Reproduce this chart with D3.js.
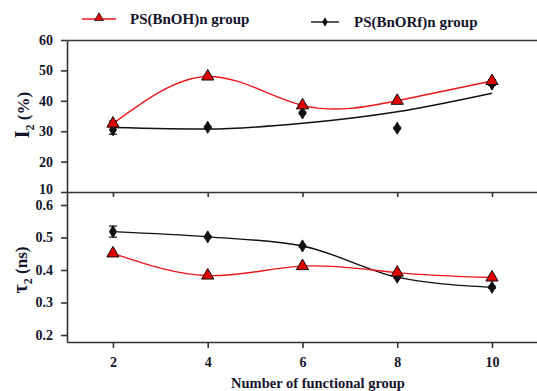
<!DOCTYPE html>
<html>
<head>
<meta charset="utf-8">
<script src="https://cdn.jsdelivr.net/npm/d3@7"></script>
<style>
  body { margin: 0; background: #fff; }
  svg { display: block; }
  text { font-family: "Liberation Serif", "Times New Roman", serif; font-weight: bold; fill: #14142b; }
</style>
</head>
<body>
<svg id="chart" width="537" height="391"></svg>
<script>
// number of functional groups
const groups = [2, 4, 6, 8, 10];

// I2 (%) values
const i2OH = [32.5, 48, 38.5, 40, 46.5];
const i2OHErr = [0.8, 0.3, 0.3, 0.3, 0.4];
const i2ORf = [30.5, 31.3, 36, 31, 45.5];
const i2ORfErr = [1.5, 0.3, 0.3, 0.3, 0.4];
// fitted trend drawn for the ORf series in the top panel
const i2ORfFit = [31.2, 30.7, 32.6, 36.4, 42.5];

// tau2 (ns) values
const tauOH = [0.451, 0.383, 0.412, 0.392, 0.377];
const tauORf = [0.518, 0.502, 0.474, 0.378, 0.347];
const tauORfErr = [0.017, 0.003, 0.003, 0.003, 0.003];

const topTicks = [10, 20, 30, 40, 50, 60];
const bottomTicks = [0.2, 0.3, 0.4, 0.5, 0.6];

const svg = d3.select("#chart");
const ink = "#14142b";
const axisColor = "#333";

const x = d3.scaleLinear().domain([1.03, 10.95]).range([67, 537]);
const yTop = d3.scaleLinear().domain([10, 60]).range([192, 40]);
const yBot = d3.scaleLinear().domain([0.1785, 0.64]).range([342, 192]);

function styleAxis(g) {
  g.selectAll("path, line").attr("stroke", axisColor).attr("stroke-width", 1.6);
  g.selectAll("text").attr("font-size", 14).attr("fill", ink)
    .attr("font-family", "Liberation Serif, serif").attr("font-weight", "bold");
}

// frame line at the top
svg.append("g").attr("transform", "translate(0,40)")
  .call(d3.axisTop(x).tickValues([]).tickSizeOuter(0))
  .call(styleAxis);

// middle separator with ticks
svg.append("g").attr("transform", "translate(0,192)")
  .call(d3.axisBottom(x).tickValues(groups).tickFormat("").tickSize(5).tickSizeOuter(0))
  .call(styleAxis);

// bottom x axis
svg.append("g").attr("transform", "translate(0,342)")
  .call(d3.axisBottom(x).tickValues(groups).tickFormat(d3.format("d")).tickSize(6).tickPadding(9).tickSizeOuter(0))
  .call(styleAxis);

// left axes
const topAxis = svg.append("g").attr("transform", "translate(67,0)")
  .call(d3.axisLeft(yTop).tickValues(topTicks).tickFormat(d3.format("d")).tickSize(6).tickPadding(8).tickSizeOuter(0))
  .call(styleAxis);
// lift the "10" label a little, it sits right above "0.6"
topAxis.selectAll(".tick").filter(d => d === 10).select("text").attr("dy", "0.1em");
svg.append("g").attr("transform", "translate(67,0)")
  .call(d3.axisLeft(yBot).tickValues(bottomTicks).tickFormat(d3.format(".1f")).tickSize(6).tickPadding(8).tickSizeOuter(0))
  .call(styleAxis);

// axis titles
svg.append("text").attr("x", 318).attr("y", 388).attr("text-anchor", "middle")
  .attr("font-size", 14.5).text("Number of functional group");

const t1 = svg.append("text").attr("transform", "translate(29,115) rotate(-90)")
  .attr("text-anchor", "middle").attr("font-size", 17);
t1.append("tspan").attr("font-size", 20).text("I");
t1.append("tspan").attr("dy", 5).attr("font-size", 12).text("2");
t1.append("tspan").attr("dy", -5).text(" (%)");

const t2 = svg.append("text").attr("transform", "translate(27,270) rotate(-90)")
  .attr("text-anchor", "middle").attr("font-size", 17);
t2.append("tspan").attr("font-size", 20).text("τ");
t2.append("tspan").attr("dy", 5).attr("font-size", 12).text("2");
t2.append("tspan").attr("dy", -5).text(" (ns)");

const tri = d3.symbol().type(d3.symbolTriangle).size(65);
const dia = d3.symbol().type(d3.symbolDiamond).size(42);

function drawLine(vals, y, color, curve) {
  svg.append("path")
    .datum(groups.map((g, i) => [g, vals[i]]))
    .attr("fill", "none").attr("stroke", color).attr("stroke-width", 1.4)
    .attr("d", d3.line().x(d => x(d[0])).y(d => y(d[1])).curve(curve));
}

function drawErr(vals, errs, y) {
  const cap = 4;
  groups.forEach((g, i) => {
    const e = errs[i];
    const cx = x(g);
    const gg = svg.append("g").attr("stroke", "#111").attr("stroke-width", 1.2);
    gg.append("line").attr("x1", cx).attr("x2", cx).attr("y1", y(vals[i] - e)).attr("y2", y(vals[i] + e));
    gg.append("line").attr("x1", cx - cap).attr("x2", cx + cap).attr("y1", y(vals[i] - e)).attr("y2", y(vals[i] - e));
    gg.append("line").attr("x1", cx - cap).attr("x2", cx + cap).attr("y1", y(vals[i] + e)).attr("y2", y(vals[i] + e));
  });
}

function drawMarks(vals, y, sym, fill) {
  svg.append("g").selectAll("path").data(groups.map((g, i) => [g, vals[i]])).join("path")
    .attr("transform", d => `translate(${x(d[0])},${y(d[1])})`)
    .attr("d", sym).attr("fill", fill).attr("stroke", "#111").attr("stroke-width", 1);
}

// top panel
drawLine(i2ORfFit, yTop, "#111", d3.curveMonotoneX);
drawLine(i2OH, yTop, "#e8161b", d3.curveNatural);
drawErr(i2ORf, i2ORfErr, yTop);
drawMarks(i2ORf, yTop, dia, "#111");
drawErr(i2OH, i2OHErr, yTop);
drawMarks(i2OH, yTop, tri, "#e00000");

// bottom panel
drawLine(tauORf, yBot, "#111", d3.curveMonotoneX);
drawLine(tauOH, yBot, "#e8161b", d3.curveNatural);
drawErr(tauORf, tauORfErr, yBot);
drawMarks(tauORf, yBot, dia, "#111");
drawMarks(tauOH, yBot, tri, "#e00000");

// legend
const leg = svg.append("g");
leg.append("line").attr("x1", 82).attr("x2", 116).attr("y1", 19).attr("y2", 19)
  .attr("stroke", "#e8161b").attr("stroke-width", 1.4);
leg.append("path").attr("transform", "translate(99,18)").attr("d", d3.symbol().type(d3.symbolTriangle).size(35))
  .attr("fill", "#e00000").attr("stroke", "#111").attr("stroke-width", 0.8);
leg.append("text").attr("x", 130).attr("y", 24).attr("font-size", 15).text("PS(BnOH)n group");
leg.append("line").attr("x1", 311).attr("x2", 339).attr("y1", 22).attr("y2", 22)
  .attr("stroke", "#111").attr("stroke-width", 1.4);
leg.append("path").attr("transform", "translate(325,22)").attr("d", d3.symbol().type(d3.symbolDiamond).size(25))
  .attr("fill", "#111");
leg.append("text").attr("x", 354).attr("y", 27).attr("font-size", 15).text("PS(BnORf)n group");
</script>
</body>
</html>
